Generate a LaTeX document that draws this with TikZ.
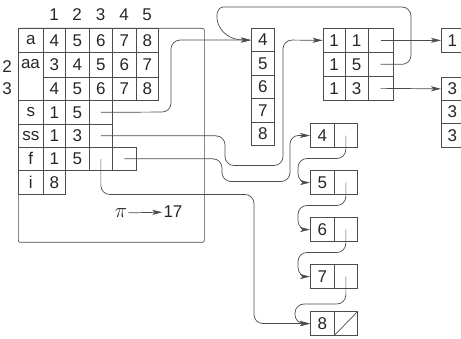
\documentclass[tikz,border=0pt]{standalone}
\usepackage{fontspec}
\setmainfont{Liberation Sans}
\usetikzlibrary{arrows.meta}
\newcommand{\cellat}[6]{\node[cell, minimum width=#4pt, minimum height=#5pt] (#1) at (#2,#3) {#6};}
\begin{document}
\begin{tikzpicture}[x=1pt,y=-1pt,
  cell/.style={draw=black!70, line width=0.7pt, anchor=north west, inner sep=0pt, font=\fontsize{17}{17}\selectfont, text=black!85},
  conn/.style={draw=black!70, line width=0.7pt, rounded corners=9pt, -{Stealth[length=10pt,width=5pt,inset=2.5pt]}},
  lbl/.style={font=\fontsize{17}{17}\selectfont, text=black!85, inner sep=1pt}]
\useasboundingbox (0,0) rectangle (461,339);
% outer frame
\node[draw=black!70, line width=0.7pt, rounded corners=2pt, anchor=north west, minimum width=186pt, minimum height=214pt, inner sep=0pt] (frame) at (18,28) {};
% headers
\node[lbl] (h1) at (54,15) {1};
\node[lbl] (h2) at (77,15) {2};
\node[lbl] (h3) at (100.5,15) {3};
\node[lbl] (h4) at (124,15) {4};
\node[lbl] (h5) at (147,15) {5};
\node[lbl] (v2) at (7,67) {2};
\node[lbl] (v3) at (7,89) {3};
% row a
\cellat{la}{18}{28}{25}{24}{a}
\cellat{a1}{43}{28}{22}{24}{4}
\cellat{a2}{65}{28}{24}{24}{5}
\cellat{a3}{89}{28}{23}{24}{6}
\cellat{a4}{112}{28}{24}{24}{7}
\cellat{a5}{136}{28}{22}{24}{8}
% row aa
\cellat{laa}{18}{52}{25}{48}{}
\node[lbl] (taa) at (30.5,64.5) {aa};
\cellat{b1}{43}{52}{22}{25}{3}
\cellat{b2}{65}{52}{24}{25}{4}
\cellat{b3}{89}{52}{23}{25}{5}
\cellat{b4}{112}{52}{24}{25}{6}
\cellat{b5}{136}{52}{22}{25}{7}
% row 3
\cellat{c1}{43}{77}{22}{23}{4}
\cellat{c2}{65}{77}{24}{23}{5}
\cellat{c3}{89}{77}{23}{23}{6}
\cellat{c4}{112}{77}{24}{23}{7}
\cellat{c5}{136}{77}{22}{23}{8}
% row s
\cellat{ls}{18}{100}{25}{24}{s}
\cellat{s1}{43}{100}{22}{24}{1}
\cellat{s2}{65}{100}{24}{24}{5}
\cellat{sp}{89}{100}{23}{24}{}
% row ss
\cellat{lss}{18}{124}{25}{23}{ss}
\cellat{ss1}{43}{124}{22}{23}{1}
\cellat{ss2}{65}{124}{24}{23}{3}
\cellat{ssp}{89}{124}{23}{23}{}
% row f
\cellat{lf}{18}{147}{25}{23}{f}
\cellat{f1}{43}{147}{22}{23}{1}
\cellat{f2}{65}{147}{24}{23}{5}
\cellat{fp}{89}{147}{23}{23}{}
\cellat{fq}{112}{147}{24}{23}{}
% row i
\cellat{li}{18}{170}{25}{24}{i}
\cellat{i1}{43}{170}{22}{24}{8}
% pi -> 17
\node[lbl, font=\fontsize{20}{20}\selectfont] (pi) at (121,213) {$\pi$};
\node[lbl] (n17) at (173,212) {17};
\draw[conn] (pi) -- (n17);
% vertical array
\cellat{A1}{251}{28}{23}{23.5}{4}
\cellat{A2}{251}{51.5}{23}{23.5}{5}
\cellat{A3}{251}{75}{23}{23.5}{6}
\cellat{A4}{251}{98.5}{23}{23.5}{7}
\cellat{A5}{251}{122}{23}{23.5}{8}
% matrix
\cellat{m11}{322.7}{28}{22.3}{24}{1}
\cellat{m12}{345}{28}{22.7}{24}{1}
\cellat{m13}{367.7}{28}{25}{24}{}
\cellat{m21}{322.7}{52}{22.3}{24}{1}
\cellat{m22}{345}{52}{22.7}{24}{5}
\cellat{m23}{367.7}{52}{25}{24}{}
\cellat{m31}{322.7}{76}{22.3}{24}{1}
\cellat{m32}{345}{76}{22.7}{24}{3}
\cellat{m33}{367.7}{76}{25}{24}{}
% right boxes
\cellat{R1}{441}{28}{22}{24}{1}
\cellat{R3a}{441}{77}{22}{23}{3}
\cellat{R3b}{441}{100}{22}{23.5}{3}
\cellat{R3c}{441}{123.5}{22}{23.5}{3}
% linked list
\cellat{L4}{310}{123.5}{24}{23.5}{4}
\cellat{L4p}{334}{123.5}{23}{23.5}{}
\cellat{L5}{310}{170.5}{24}{23.5}{5}
\cellat{L5p}{334}{170.5}{23}{23.5}{}
\cellat{L6}{310}{217.5}{24}{23.5}{6}
\cellat{L6p}{334}{217.5}{23}{23.5}{}
\cellat{L7}{310}{264.5}{24}{23.5}{7}
\cellat{L7p}{334}{264.5}{23}{23.5}{}
\cellat{L8}{310}{311.5}{24}{23.5}{8}
\cellat{L8p}{334}{311.5}{23}{23.5}{}
\draw[draw=black!70, line width=0.7pt] (L8p.south west) -- (L8p.north east);
% connectors
\draw[conn] (sp.center) -- (171,112) |- (A1.west);
\draw[conn] (m23.center) -| (411,7) -- (232,7) .. controls (212,7) and (214,39.75) .. (A1.west);
\draw[conn] (ssp.center) -| (225,165.5) -| (283,40) -- (m11.west);
\draw[conn] (fq.center) -| (222,181.5) -| (290,135.25) -- (L4.west);
\draw[conn] (fp.center) |- (254,194.5) |- (L8.west);
\draw[conn] (m13.center) -- (R1.west);
\draw[conn] (m33.center) -- (R3a.west);
\draw[conn] (L4p.center) |- (298,158.5) |- (L5.west);
\draw[conn] (L5p.center) |- (298,205.5) |- (L6.west);
\draw[conn] (L6p.center) |- (298,252.5) |- (L7.west);
\draw[conn] (L7p.center) |- (295,304) |- (L8.west);
\end{tikzpicture}
\end{document}
